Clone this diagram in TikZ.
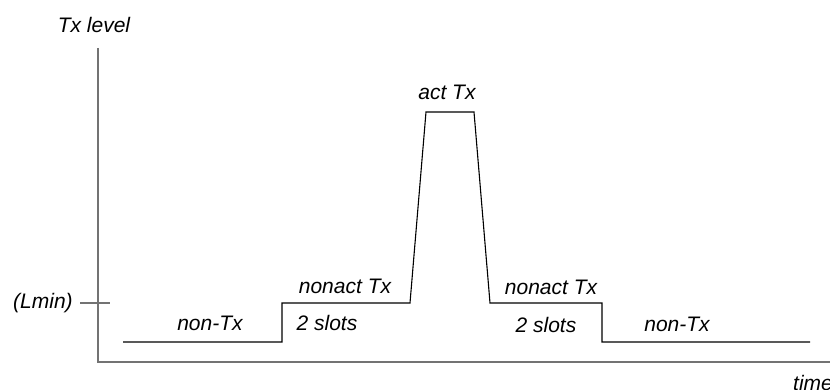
\documentclass[tikz,border=0pt]{standalone}
\usepackage{fontspec}
\setmainfont{Liberation Sans}
\usetikzlibrary{positioning}
\tikzset{axis/.style = {draw=black!55, line width=1.4pt},
         level/.style = {draw=black, line width=1.1pt},
         lbl/.style = {font=\fontsize{21}{25}\selectfont\itshape, inner sep=0pt}}

\begin{document}
\begin{tikzpicture}[x=1pt, y=-1pt]
    \useasboundingbox (0, 0) rectangle (830, 390);
    \draw [axis] (98, 48) -- (98, 362) -- (832, 362);
    \draw [axis] (80, 303) -- (110, 303);
    \node [lbl] (ylabel) at (94, 25) {Tx level};
    \node [lbl] (xlabel) [anchor=west] at (793, 383) {time};
    \node [lbl] (lmin) at (43, 303) {(Lmin)};

    \draw [level] (123, 342) -- (282, 342) -- (282, 303) -- (410, 303)
      -- (426, 112) -- (474, 112) -- (490, 303) -- (602, 303)
      -- (602, 342) -- (810, 342);
    \node [lbl] (nontx1) at (210, 323) {non-Tx};
    \node [lbl] (nonact1) at (345, 286) {nonact Tx};
    \node [lbl] (slots1) at (327, 323) {2 slots};
    \node [lbl] (act) at (447, 92) {act Tx};
    \node [lbl] (nonact2) at (551, 287) {nonact Tx};
    \node [lbl] (slots2) at (546, 325) {2 slots};
    \node [lbl] (nontx2) at (677, 324) {non-Tx};
  \end{tikzpicture}
\end{document}
